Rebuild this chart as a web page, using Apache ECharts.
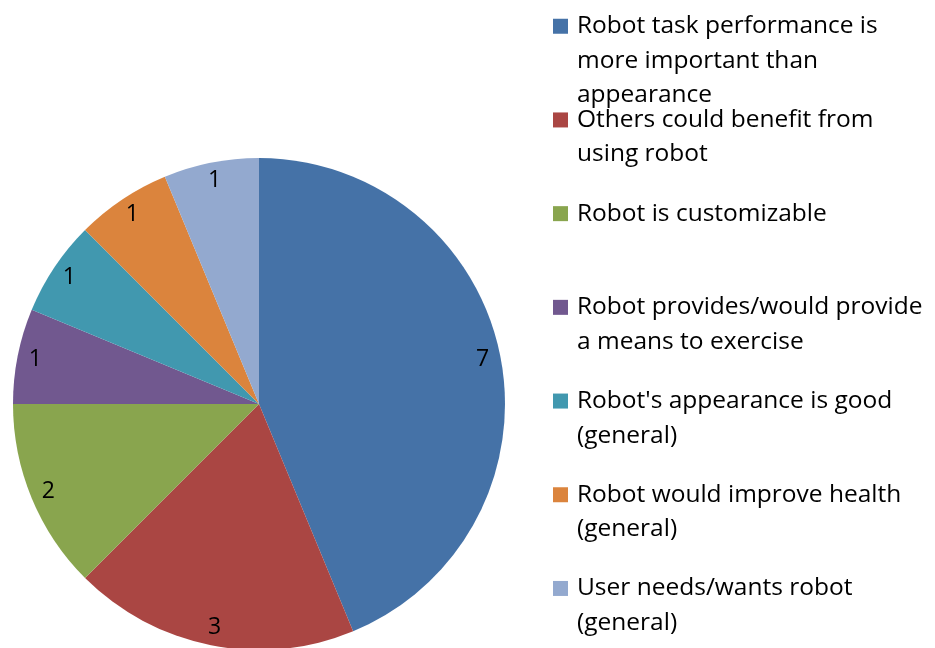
<!DOCTYPE html>
<html>
<head>
<meta charset="utf-8">
<script src="https://cdn.jsdelivr.net/npm/echarts@6/dist/echarts.min.js"></script>
<style>html,body{margin:0;padding:0;background:#fff;}#c{width:935px;height:648px;}</style>
</head>
<body>
<div id="c"></div>
<script>
const categories = [
  "Robot task performance is\nmore important than\nappearance",
  "Others could benefit from\nusing robot",
  "Robot is customizable",
  "Robot provides/would provide\na means to exercise",
  "Robot's appearance is good\n(general)",
  "Robot would improve health\n(general)",
  "User needs/wants robot\n(general)"
];
const values = [7, 3, 2, 1, 1, 1, 1];
const colors = ["#4572A7", "#AA4643", "#89A54E", "#71588F", "#4198AF", "#DB843D", "#93A9CF"];

const FONT = "Open Sans";
const chart = echarts.init(document.getElementById('c'), null, {renderer: 'canvas'});
const pieData = categories.map((n, i) => ({name: n, value: values[i], itemStyle: {color: colors[i]}}));

const rich = {
  g: {width: 9, height: 15},
  g2: {width: 24, height: 15},
  t: {fontFamily: FONT, fontSize: 24.5, color: '#000', lineHeight: 34.5}
};
colors.forEach((c, i) => { rich['m' + i] = {width: 15, height: 15, backgroundColor: c}; });

const legends = categories.map((n, i) => ({
  data: [n],
  left: 553,
  top: 24.5 + i * 93.7 - 17.25 + 6.5,
  padding: 0,
  icon: 'none',
  itemWidth: 0,
  itemHeight: 15,
  selectedMode: false,
  formatter: function (name) {
    const lines = name.split('\n');
    return lines.map((l, k) => (k === 0 ? '{m' + i + '|}{g|}' : '{g2|}') + '{t|' + l + '}').join('\n');
  },
  textStyle: {rich: rich, padding: [0, 0, 0, -5]}
}));

chart.setOption({
  animation: false,
  legend: legends,
  series: [
    {
      type: 'pie',
      center: [259, 404],
      radius: [0, 246],
      startAngle: 90,
      clockwise: true,
      data: pieData,
      label: {show: false},
      labelLine: {show: false},
      silent: true
    },
    {
      type: 'pie',
      center: [259, 404],
      radius: [204, 246],
      startAngle: 90,
      clockwise: true,
      data: categories.map((n, i) => ({name: n, value: values[i]})),
      itemStyle: {color: 'rgba(0,0,0,0)'},
      label: {show: true, position: 'inside', formatter: '{c}', fontFamily: FONT, fontSize: 23, color: '#000'},
      labelLine: {show: false},
      emphasis: {disabled: true},
      silent: true,
      z: 3
    }
  ]
});
</script>
</body>
</html>
